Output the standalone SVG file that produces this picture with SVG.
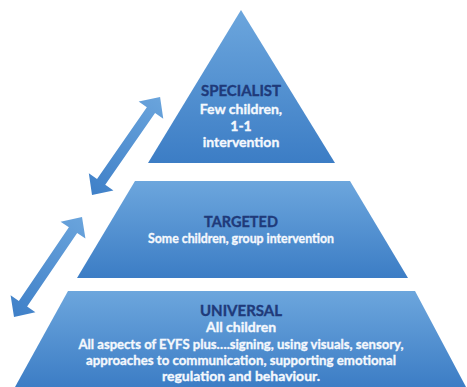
<svg xmlns="http://www.w3.org/2000/svg" width="467" height="387" viewBox="0 0 467 387">
  <defs>
    <linearGradient id="g" x1="0" y1="0" x2="0" y2="1">
      <stop offset="0" stop-color="#6ca6dd"/>
      <stop offset="1" stop-color="#3c7dc5"/>
    </linearGradient>
    <linearGradient id="ga" x1="0" y1="0" x2="1" y2="0">
      <stop offset="0" stop-color="#3f80c8"/>
      <stop offset="1" stop-color="#6aa4dc"/>
    </linearGradient>
  </defs>
  <style>
    .shape { fill: url(#g); }
    .arrow { fill: url(#ga); }
    text { font-family: Lato, "Open Sans", "Liberation Sans", sans-serif; font-weight: bold; text-anchor: middle; stroke-width: 0.35; }
    .head { fill: #1f3a7a; stroke: #1f3a7a; }
    .body { fill: #f4f8fd; stroke: #f4f8fd; }
  </style>
  <rect width="467" height="387" fill="#ffffff"/>

  <g id="connectors">
    <polygon class="arrow" transform="translate(92,195) rotate(-55.2)" points="0,0 16,-15 16,-5 103.3,-5 103.3,-15 119.3,0 103.3,15 103.3,5 16,5 16,15"/>
    <polygon class="arrow" transform="translate(14,317) rotate(-55.8)" points="0,0 16,-15 16,-5 105,-5 105,-15 121,0 105,15 105,5 16,5 16,15"/>
  </g>

  <g id="specialist">
    <polygon class="shape" points="241,10 335,163 148,163"/>
    <text class="head" x="241" y="96" font-size="15">SPECIALIST</text>
    <text class="body" x="241" y="113.5" font-size="14">Few children,</text>
    <text class="body" x="241" y="130.5" font-size="14">1-1</text>
    <text class="body" x="241" y="147" font-size="14">intervention</text>
  </g>

  <g id="targeted">
    <polygon class="shape" points="135,181 350,181 408,278 77,278"/>
    <text class="head" x="241" y="227" font-size="14.5">TARGETED</text>
    <text class="body" x="241" y="243" font-size="13" textLength="186" lengthAdjust="spacingAndGlyphs">Some children, group intervention</text>
  </g>

  <g id="universal">
    <polygon class="shape" points="68,291 415,291 466,387 15,387"/>
    <text class="head" x="241" y="316" font-size="15">UNIVERSAL</text>
    <text class="body" x="241" y="332" font-size="14">All children</text>
    <text class="body" x="241" y="349" font-size="14" textLength="325" lengthAdjust="spacingAndGlyphs">All aspects of EYFS plus….signing, using visuals, sensory,</text>
    <text class="body" x="241" y="365" font-size="14" textLength="310" lengthAdjust="spacingAndGlyphs">approaches to communication, supporting emotional</text>
    <text class="body" x="241" y="381" font-size="14">regulation and behaviour.</text>
  </g>
</svg>
